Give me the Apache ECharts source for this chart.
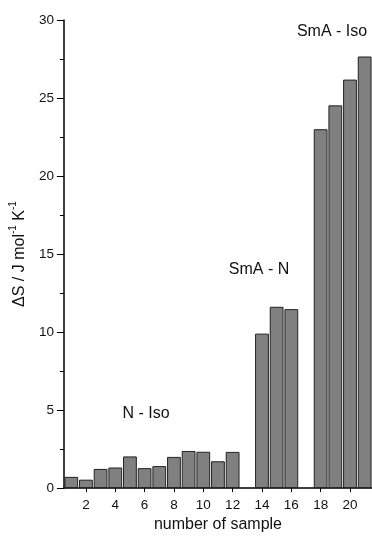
<!DOCTYPE html>
<html>
<head>
<meta charset="utf-8">
<script src="https://cdn.jsdelivr.net/npm/echarts@6/dist/echarts.min.js"></script>
<style>html,body{margin:0;padding:0;background:#fff;overflow:hidden;}#c{width:372px;height:538px;}</style>
</head>
<body>
<div id="c"></div>
<script>
var categories = ['1','2','3','4','5','6','7','8','9','10','11','12','13','14','15','16','17','18','19','20','21'];
var deltaS = [0.72, 0.54, 1.23, 1.32, 2.03, 1.28, 1.41, 2.0, 2.38, 2.33, 1.72, 2.32, null, 9.9, 11.62, 11.47, null, 23.0, 24.53, 26.18, 27.66];
var yTicks = [0, 5, 10, 15, 20, 25, 30];
var annotations = [
  {text: 'N - Iso', x: 146, y: 414},
  {text: 'SmA - N', x: 259, y: 270},
  {text: 'SmA - Iso', x: 332, y: 32}
];

var chart = echarts.init(document.getElementById('c'), null, {renderer: 'canvas'});
var font = 'Liberation Sans, Arial, sans-serif';
chart.setOption({
  animation: false,
  backgroundColor: '#fff',
  grid: {left: 57, top: 20, right: 0, bottom: 38, containLabel: false},
  xAxis: {
    type: 'category',
    data: categories,
    boundaryGap: true,
    name: 'number of sample',
    nameLocation: 'middle',
    nameGap: 23,
    nameTextStyle: {fontFamily: font, fontSize: 16, color: '#111'},
    axisLine: {show: true, lineStyle: {color: '#000', width: 1.5}},
    axisTick: {show: true, alignWithLabel: true, length: 4, interval: function (i) { return i % 2 === 1; }, lineStyle: {color: '#000', width: 1}},
    axisLabel: {fontFamily: font, fontSize: 13.5, color: '#111', margin: 10, interval: function (i) { return i % 2 === 1; }},
    splitLine: {show: false}
  },
  yAxis: {
    type: 'value',
    min: yTicks[0],
    max: yTicks[yTicks.length - 1],
    interval: 5,
    name: '{a|ΔS / J mol}{s|-1}{a| K}{s|-1}',
    nameLocation: 'middle',
    nameGap: 22,
    nameRotate: 90,
    nameTextStyle: {
      fontFamily: font, fontSize: 16, color: '#111',
      rich: {
        a: {fontFamily: font, fontSize: 16, color: '#111', lineHeight: 20, verticalAlign: 'bottom'},
        s: {fontFamily: font, fontSize: 10, color: '#111', lineHeight: 20, verticalAlign: 'top'}
      }
    },
    axisLine: {show: true, lineStyle: {color: '#000', width: 1.5}},
    axisTick: {show: true, length: 7, lineStyle: {color: '#000', width: 1}},
    minorTick: {show: true, splitNumber: 2, length: 4, lineStyle: {color: '#000', width: 1}},
    axisLabel: {fontFamily: font, fontSize: 13.5, color: '#111', margin: 10},
    splitLine: {show: false}
  },
  series: [{
    type: 'bar',
    data: deltaS,
    barCategoryGap: '6%',
    itemStyle: {color: '#808080', borderColor: '#222', borderWidth: 1}
  }],
  graphic: annotations.map(function (a) {
    return {type: 'text', x: a.x, y: a.y, z: 100, style: {text: a.text, fontFamily: font, fontSize: 16, fill: '#111', align: 'center', verticalAlign: 'middle', textAlign: 'center', textVerticalAlign: 'middle'}};
  })
});
</script>
</body>
</html>
